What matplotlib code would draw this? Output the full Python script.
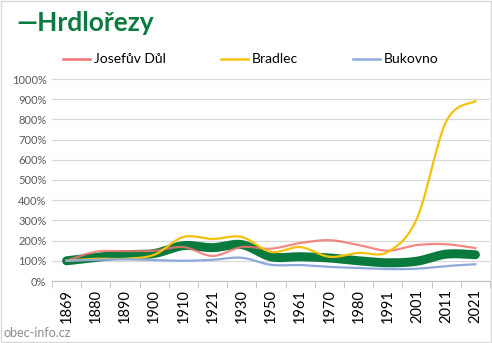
import numpy as np
import matplotlib.pyplot as plt
from matplotlib.patches import Rectangle
from matplotlib.lines import Line2D

plt.rcParams['font.family'] = ['Lato', 'DejaVu Sans']

roky = ['1869', '1880', '1890', '1900', '1910', '1921', '1930', '1950',
        '1961', '1970', '1980', '1991', '2001', '2011', '2021']

# vyvoj poctu obyvatel, 1869 = 100 %
hrdlorezy = [100, 117, 130, 136, 175, 165, 180, 120, 120, 114, 100, 90, 98, 133, 130]
josefuv_dul = [100, 145, 148, 150, 168, 124, 168, 160, 188, 202, 178, 150, 178, 182, 163]
bradlec = [100, 110, 110, 130, 218, 208, 218, 144, 168, 120, 139, 144, 310, 790, 890]
bukovno = [100, 105, 107, 104, 100, 105, 115, 80, 79, 70, 64, 59, 61, 74, 83]


def vyhlazeni(y, n=30):
    # Catmull-Rom krivka pres body, podobne jako vyhlazena cara v Excelu
    y = np.asarray(y, dtype=float)
    x = np.arange(len(y), dtype=float)
    px, py = [], []
    for i in range(len(y) - 1):
        x0, y0 = (x[i - 1], y[i - 1]) if i > 0 else (x[i], y[i])
        x3, y3 = (x[i + 2], y[i + 2]) if i + 2 < len(y) else (x[i + 1], y[i + 1])
        x1, y1, x2, y2 = x[i], y[i], x[i + 1], y[i + 1]
        c1x, c1y = x1 + (x2 - x0) / 6, y1 + (y2 - y0) / 6
        c2x, c2y = x2 - (x3 - x1) / 6, y2 - (y3 - y1) / 6
        t = np.linspace(0, 1, n, endpoint=(i == len(y) - 2))
        a, b, c, d = (1 - t) ** 3, 3 * (1 - t) ** 2 * t, 3 * (1 - t) * t ** 2, t ** 3
        px.extend(a * x1 + b * c1x + c * c2x + d * x2)
        py.extend(a * y1 + b * c1y + c * c2y + d * y2)
    return np.array(px), np.array(py)


fig = plt.figure(figsize=(4.92, 3.43), dpi=100)
fig.patches.append(Rectangle((0.002, 0.003), 0.996, 0.994, transform=fig.transFigure,
                             fill=False, edgecolor='#d9d9d9', linewidth=1))
ax = fig.add_axes([52 / 492, 1 - 281 / 343, 438 / 492, 202 / 343])

zelena = '#0b7a3e'
cervena = '#f07470'
zluta = '#f4c20d'
modra = '#8eaadb'

x, y = vyhlazeni(hrdlorezy)
ax.plot(x, y / 100, color=zelena, linewidth=6.5, solid_capstyle='round', zorder=3)
x, y = vyhlazeni(josefuv_dul)
ax.plot(x, y / 100, color=cervena, linewidth=1.6, alpha=0.85, zorder=4)
x, y = vyhlazeni(bradlec)
ax.plot(x, y / 100, color=zluta, linewidth=1.6, zorder=4)
x, y = vyhlazeni(bukovno)
ax.plot(x, y / 100, color=modra, linewidth=1.6, zorder=4)

ax.set_xlim(-0.5, len(roky) - 0.5)
ax.set_ylim(0, 10)
ax.set_yticks(np.arange(0, 11, 1))
ax.set_yticklabels([f'{v * 100}%' for v in range(11)], fontsize=8, color='#595959')
ax.set_xticks(range(len(roky)))
ax.set_xticklabels(roky, rotation=90, fontsize=10.5, color='black')
ax.set_xticks(np.arange(-0.5, len(roky), 1), minor=True)
ax.tick_params(axis='x', which='major', length=0, pad=6)
ax.tick_params(axis='x', which='minor', length=5, color='#bfbfbf')
ax.tick_params(axis='y', length=0, pad=4)
ax.grid(axis='y', color='#d9d9d9', linewidth=0.9)
ax.set_axisbelow(True)
for s in ['top', 'right', 'left']:
    ax.spines[s].set_visible(False)
ax.spines['bottom'].set_color('#bfbfbf')

fig.text(16 / 492, 1 - 23 / 343, '—Hrdlořezy', fontsize=19, fontweight='bold',
         color=zelena, va='center', ha='left')

# legenda rucne, at sedi rozestupy
legenda = [('Josefův Důl', cervena, 63), ('Bradlec', zluta, 221), ('Bukovno', modra, 353)]
ly = 1 - 59 / 343
for nazev, barva, lx in legenda:
    fig.add_artist(Line2D([lx / 492, (lx + 27) / 492], [ly, ly], color=barva,
                          linewidth=1.8, transform=fig.transFigure))
    fig.text((lx + 31) / 492, ly, nazev, fontsize=10, va='center', ha='left')

fig.text(4 / 492, 1 - 333 / 343, 'obec-info.cz', fontsize=9, color='#8c8c8c',
         va='center', ha='left')

plt.savefig('out.png', dpi=100)
